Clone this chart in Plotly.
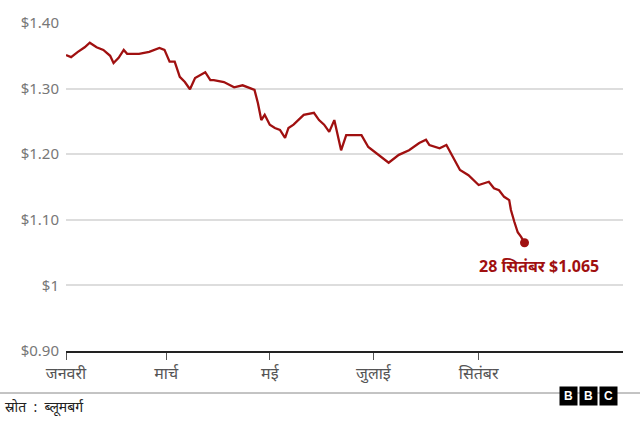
import plotly.graph_objects as go

dates = ["2022-01-01","2022-01-04","2022-01-08","2022-01-12","2022-01-15","2022-01-19","2022-01-23","2022-01-27","2022-01-29","2022-02-01",
"2022-02-04","2022-02-06","2022-02-13","2022-02-19","2022-02-25","2022-02-28","2022-03-03","2022-03-06","2022-03-09","2022-03-12",
"2022-03-15","2022-03-18","2022-03-24","2022-03-27","2022-03-29","2022-04-04","2022-04-10","2022-04-15","2022-04-19","2022-04-22",
"2022-04-24","2022-04-26","2022-04-28","2022-05-01","2022-05-04","2022-05-07","2022-05-10","2022-05-12","2022-05-15","2022-05-21",
"2022-05-27","2022-05-30","2022-06-02","2022-06-05","2022-06-08","2022-06-12","2022-06-15","2022-06-20","2022-06-24","2022-06-28",
"2022-07-04","2022-07-10","2022-07-16","2022-07-22","2022-07-28","2022-08-01","2022-08-03","2022-08-09","2022-08-13","2022-08-16",
"2022-08-19","2022-08-21","2022-08-26","2022-09-01","2022-09-07","2022-09-10","2022-09-13","2022-09-16","2022-09-19","2022-09-20",
"2022-09-22","2022-09-24","2022-09-26","2022-09-28"]
values = [1.351,1.348,1.356,1.363,1.370,1.363,1.359,1.350,1.339,1.347,
1.359,1.353,1.353,1.356,1.362,1.359,1.341,1.341,1.318,1.310,
1.299,1.316,1.325,1.313,1.313,1.310,1.302,1.305,1.301,1.298,
1.278,1.252,1.260,1.245,1.240,1.237,1.225,1.240,1.245,1.260,
1.263,1.252,1.245,1.234,1.252,1.206,1.229,1.229,1.229,1.211,
1.199,1.187,1.199,1.206,1.217,1.222,1.214,1.209,1.214,1.199,
1.184,1.176,1.168,1.153,1.158,1.148,1.145,1.135,1.130,1.115,
1.097,1.081,1.074,1.065]
tick_vals = ["2022-01-01","2022-03-01","2022-05-01","2022-07-01","2022-09-01"]
tick_text = ["जनवरी","मार्च","मई","जुलाई","सितंबर"]
y_vals = [0.90,1.00,1.10,1.20,1.30,1.40]
y_text = ["$0.90","$1","$1.10","$1.20","$1.30","$1.40"]
label = "28 सितंबर $1.065"
source = "स्रोत  :  ब्लूमबर्ग"

red = "#a01010"
W, H = 557, 328
fig = go.Figure()
fig.add_trace(go.Scatter(x=dates, y=values, mode="lines", line=dict(color=red, width=2.3), hoverinfo="skip"))
fig.add_trace(go.Scatter(x=[dates[-1]], y=[values[-1]], mode="markers", marker=dict(color=red, size=9)))
fig.add_annotation(x=dates[-1], y=values[-1], text="<b>"+label+"</b>", showarrow=False,
                   xanchor="center", yanchor="top", yshift=-10, xshift=14,
                   font=dict(color=red, size=16, family="Noto Sans"))
fig.update_layout(
    width=640, height=421, margin=dict(l=66, r=17, t=23, b=70, autoexpand=False),
    paper_bgcolor="white", plot_bgcolor="white", showlegend=False,
    font=dict(family="Noto Sans", color="#666"),
    xaxis=dict(type="date", range=["2022-01-01","2022-11-25"], tickvals=tick_vals, ticktext=tick_text,
               showgrid=False, showline=True, linecolor="#222", linewidth=2, ticks="outside",
               ticklen=7, tickcolor="#555", tickfont=dict(size=16, color="#555"), zeroline=False),
    yaxis=dict(range=[0.90,1.40], tickvals=y_vals, ticktext=y_text, showgrid=True, gridcolor="#ddd",
               gridwidth=1.5, tickfont=dict(size=15, color="#777"), zeroline=False, ticks="", ticklabelstandoff=6),
)
fig.add_shape(type="line", xref="paper", yref="paper", x0=-66/W, x1=(640-66)/W, y0=-42/H, y1=-42/H,
              line=dict(color="#888", width=1))
fig.add_annotation(xref="paper", yref="paper", x=-63/W, y=-56/H, text=source, showarrow=False,
                   xanchor="left", yanchor="middle", font=dict(size=14, color="#222"))
for i, ch in enumerate("BBC"):
    xc = 578 + i*20
    fig.add_annotation(xref="paper", yref="paper", x=(xc-66)/W, y=-(406-351)/H, text="<b>"+ch+"</b>",
                       showarrow=False, bgcolor="black", width=15, height=16, borderpad=1,
                       font=dict(size=12, color="white", family="Liberation Sans"))
fig.write_html("out.html", post_script="document.body.style.margin='0';", config={"displayModeBar": False})
